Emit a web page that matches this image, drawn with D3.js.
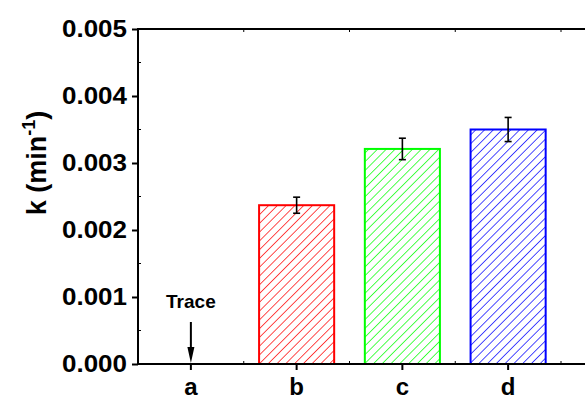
<!DOCTYPE html>
<html>
<head>
<meta charset="utf-8">
<script src="https://cdn.jsdelivr.net/npm/d3@7"></script>
<style>
  body { margin: 0; background: #fff; }
  svg text { font-family: Arial, "Liberation Sans", sans-serif; font-weight: bold; fill: #000; }
</style>
</head>
<body>
<svg id="chart" width="585" height="401"></svg>
<script>
'use strict';

// data
var categories = ['a', 'b', 'c', 'd'];
var rates = [0, 0.00237, 0.00321, 0.00350];      // k (min^-1), 'a' is trace only
var rateErrors = [0, 0.00012, 0.00016, 0.00018];
var barColors = ['#000000', '#ff0000', '#00ff00', '#0000ff'];
var yTicks = [0, 0.001, 0.002, 0.003, 0.004, 0.005];

var svg = d3.select('#chart'),
    margin = { top: 29, left: 138, bottom: 37 },
    height = 401 - margin.top - margin.bottom,
    step = 105.75,
    plotRight = 585;

var x = d3.scaleBand()
    .domain(categories)
    .range([margin.left, margin.left + step * categories.length])
    .paddingInner(0.29)
    .paddingOuter(0.145);

var y = d3.scaleLinear()
    .domain([0, 0.005])
    .range([margin.top + height, margin.top]);

var bw = x.bandwidth();

//hatch patterns, one per colour
var defs = svg.append('defs');
barColors.forEach(function (c, i) {
    var p = defs.append('pattern')
        .attr('id', 'hatch' + i)
        .attr('patternUnits', 'userSpaceOnUse')
        .attr('width', 6.2)
        .attr('height', 6.2)
        .attr('patternTransform', 'rotate(45)');
    p.append('line')
        .attr('x1', 0).attr('y1', 0)
        .attr('x2', 0).attr('y2', 6.2)
        .attr('stroke', c)
        .attr('stroke-width', 1.4);
});

// bars (skip 'a', only a trace)
var bars = categories.map(function (c, i) {
    return { cat: c, val: rates[i], err: rateErrors[i], i: i };
}).filter(function (d) { return d.val > 0; });

svg.selectAll('.bar')
    .data(bars)
    .enter().append('rect')
    .attr('class', 'bar')
    .attr('x', function (d) { return x(d.cat); })
    .attr('y', function (d) { return y(d.val); })
    .attr('width', bw)
    .attr('height', function (d) { return y(0) - y(d.val); })
    .attr('fill', function (d) { return 'url(#hatch' + d.i + ')'; })
    .attr('stroke', function (d) { return barColors[d.i]; })
    .attr('stroke-width', 2);

// error bars
var eb = svg.selectAll('.err')
    .data(bars)
    .enter().append('g')
    .attr('class', 'err')
    .attr('stroke', '#000')
    .attr('stroke-width', 1.6);
eb.append('line')
    .attr('x1', function (d) { return x(d.cat) + bw / 2; })
    .attr('x2', function (d) { return x(d.cat) + bw / 2; })
    .attr('y1', function (d) { return y(d.val + d.err); })
    .attr('y2', function (d) { return y(d.val - d.err); });
[1, -1].forEach(function (s) {
    eb.append('line')
        .attr('x1', function (d) { return x(d.cat) + bw / 2 - 3.5; })
        .attr('x2', function (d) { return x(d.cat) + bw / 2 + 3.5; })
        .attr('y1', function (d) { return y(d.val + s * d.err); })
        .attr('y2', function (d) { return y(d.val + s * d.err); });
});

// axes
var x0 = margin.left, y0 = y(0), yTop = y(0.005);
var minorX = d3.range(1, categories.length + 1).map(function (k) { return margin.left + k * step; });

var yAxis = d3.axisLeft(y)
    .tickValues(yTicks)
    .tickFormat(d3.format('.3f'))
    .tickSize(6)
    .tickPadding(5);
var gy = svg.append('g')
    .attr('transform', 'translate(' + x0 + ',0)')
    .call(yAxis);
gy.select('.domain').remove();
gy.selectAll('.tick line').attr('stroke-width', 2);
gy.selectAll('.tick text')
    .style('font-size', '24px')
    .attr('textLength', 65)
    .attr('lengthAdjust', 'spacingAndGlyphs');

// minor y ticks, inward
svg.selectAll('.yminor')
    .data(yTicks.slice(0, -1).map(function (v) { return v + 0.0005; }))
    .enter().append('line')
    .attr('x1', x0).attr('x2', x0 + 3)
    .attr('y1', function (d) { return y(d); })
    .attr('y2', function (d) { return y(d); })
    .attr('stroke', '#000').attr('stroke-width', 1);

var xAxis = d3.axisBottom(x)
    .tickSize(6)
    .tickPadding(8)
    .offset(0);
var gx = svg.append('g')
    .attr('transform', 'translate(0,' + y0 + ')')
    .call(xAxis);
gx.select('.domain').remove();
gx.selectAll('.tick line').attr('stroke-width', 2);
gx.selectAll('.tick text').style('font-size', '24px');

svg.selectAll('.xminor')
    .data(minorX)
    .enter().append('line')
    .attr('x1', function (d) { return d; })
    .attr('x2', function (d) { return d; })
    .attr('y1', y0).attr('y2', y0 - 3)
    .attr('stroke', '#000').attr('stroke-width', 1);

svg.selectAll('.xtopminor')
    .data(minorX)
    .enter().append('line')
    .attr('x1', function (d) { return d; })
    .attr('x2', function (d) { return d; })
    .attr('y1', yTop).attr('y2', yTop + 3)
    .attr('stroke', '#000').attr('stroke-width', 1);

// frame lines: left, bottom, top
svg.append('line')
    .attr('x1', x0).attr('x2', x0)
    .attr('y1', yTop - 1).attr('y2', y0 + 1)
    .attr('stroke', '#000').attr('stroke-width', 2);
svg.append('line')
    .attr('x1', x0).attr('x2', plotRight)
    .attr('y1', y0).attr('y2', y0)
    .attr('stroke', '#000').attr('stroke-width', 2);
svg.append('line')
    .attr('x1', x0).attr('x2', plotRight)
    .attr('y1', yTop).attr('y2', yTop)
    .attr('stroke', '#000').attr('stroke-width', 2);

// y label
var lab = svg.append('text')
    .attr('transform', 'translate(46,163) rotate(-90)')
    .attr('text-anchor', 'middle')
    .style('font-size', '27px');
lab.append('tspan').text('k (min');
lab.append('tspan').attr('dy', -11).style('font-size', '18px').text('-1');
lab.append('tspan').attr('dy', 11).text(')');

// trace annotation on 'a'
var ax = x('a') + bw / 2;
svg.append('text')
    .attr('x', ax)
    .attr('y', 308)
    .attr('text-anchor', 'middle')
    .style('font-size', '19px')
    .text('Trace');
svg.append('line')
    .attr('x1', ax).attr('x2', ax)
    .attr('y1', 322).attr('y2', 350)
    .attr('stroke', '#000').attr('stroke-width', 2);
svg.append('path')
    .attr('d', 'M' + (ax - 3.5) + ',347L' + (ax + 3.5) + ',347L' + ax + ',' + (y0 - 1) + 'Z')
    .attr('fill', '#000');
</script>
</body>
</html>
